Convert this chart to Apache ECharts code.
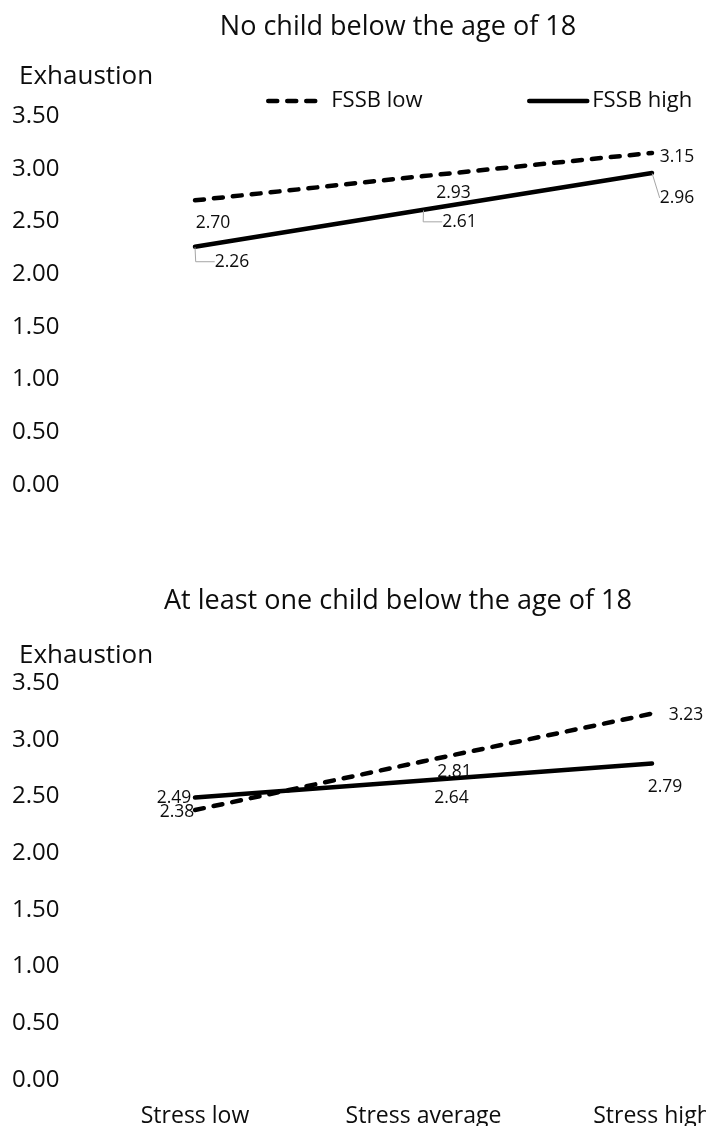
<!DOCTYPE html>
<html>
<head>
<meta charset="utf-8">
<script src="https://cdn.jsdelivr.net/npm/echarts/dist/echarts.min.js"></script>
<style>
html,body{margin:0;padding:0;background:#fff;}
#chart{width:706px;height:1126px;}
</style>
</head>
<body>
<div id="chart"></div>
<script>
// ---- data ----
const categories = ['Stress low', 'Stress average', 'Stress high'];
const seriesNames = ['FSSB low', 'FSSB high'];
const noChildLow = [2.70, 2.93, 3.15];
const noChildHigh = [2.26, 2.61, 2.96];
const childLow = [2.38, 2.81, 3.23];
const childHigh = [2.49, 2.64, 2.79];
const yTicks = [0, 0.5, 1.0, 1.5, 2.0, 2.5, 3.0, 3.5];
const panelTitles = ['No child below the age of 18', 'At least one child below the age of 18'];
const yAxisTitle = 'Exhaustion';

// ---- styling / layout config ----
const FONT = 'Open Sans';
const TXT = '#0d0d0d';
const GUIDE = { color: '#a6a6a6', width: 1 };

const labelOffsets = {
  topLow: [[18, 23], [30, 17], [25, 4]],
  topHigh: [[37, 15], [36, 12], [25, 25]],
  botLow: [[-18, 2], [31, 11], [34, 1]],
  botHigh: [[-21, 0], [28, 17], [13, 23]]
};
const guideLines = {
  topHigh: [
    { show: true, length2: 19, lineStyle: GUIDE },
    { show: true, length2: 19, lineStyle: GUIDE },
    { show: true, length2: 0, lineStyle: GUIDE }
  ]
};

function buildData(values, offsets, guides) {
  return values.map((v, i) => ({
    value: v,
    label: { offset: offsets[i] },
    labelLine: guides ? guides[i] : { show: false }
  }));
}

const dashedStyle = { color: '#000', width: 4.5, type: [9, 10], cap: 'round' };
const solidStyle = { color: '#000', width: 4.5, type: 'solid', cap: 'round' };

function lineSeries(name, values, idx, offsets, guides, style) {
  return {
    name: name,
    type: 'line',
    xAxisIndex: idx,
    yAxisIndex: idx,
    data: buildData(values, offsets, guides),
    symbol: 'circle',
    symbolSize: 1,
    showSymbol: true,
    itemStyle: { color: '#000' },
    lineStyle: style,
    emphasis: { disabled: true },
    silent: true,
    label: {
      show: true,
      position: 'inside',
      align: 'center',
      verticalAlign: 'middle',
      fontFamily: FONT,
      fontSize: 17.5,
      color: TXT,
      formatter: p => Number(p.value).toFixed(2)
    },
    z: 3
  };
}

function legendFor(name, left, style, iconWidth, textPad) {
  return {
    data: [name], left: left, top: 90, padding: 0, itemWidth: iconWidth, itemHeight: 14,
    selectedMode: false,
    itemStyle: { opacity: 0 },
    lineStyle: { width: style.width, type: style.type, cap: style.cap },
    textStyle: { fontFamily: FONT, fontSize: 22, color: TXT, padding: [0, 0, 0, textPad] }
  };
}

const gridTops = [116, 683];
const gridHeights = [369, 397];

const option = {
  animation: false,
  backgroundColor: '#fff',
  textStyle: { fontFamily: FONT },
  title: [
    { text: panelTitles[0], left: 398, top: 14, textAlign: 'center', padding: 0,
      textStyle: { fontFamily: FONT, fontSize: 27, fontWeight: 'normal', color: TXT } },
    { text: yAxisTitle, left: 19, top: 64, padding: 0,
      textStyle: { fontFamily: FONT, fontSize: 26, fontWeight: 'normal', color: TXT } },
    { text: panelTitles[1], left: 398, top: 588, textAlign: 'center', padding: 0,
      textStyle: { fontFamily: FONT, fontSize: 27, fontWeight: 'normal', color: TXT } },
    { text: yAxisTitle, left: 19, top: 643, padding: 0,
      textStyle: { fontFamily: FONT, fontSize: 26, fontWeight: 'normal', color: TXT } }
  ],
  legend: [
    legendFor(seriesNames[0], 266, dashedStyle, 52, 6),
    legendFor(seriesNames[1], 527, solidStyle, 58, 0)
  ],
  grid: gridTops.map((t, i) => ({
    left: 195, right: 54, top: t, height: gridHeights[i], containLabel: false, outerBoundsMode: 'none'
  })),
  xAxis: [0, 1].map(i => ({
    type: 'category',
    gridIndex: i,
    data: categories,
    boundaryGap: false,
    axisLine: { show: false },
    axisTick: { show: false },
    splitLine: { show: false },
    axisLabel: {
      show: i === 1,
      interval: 0,
      margin: 25,
      fontFamily: FONT,
      fontSize: 23,
      color: TXT
    }
  })),
  yAxis: [0, 1].map(i => ({
    type: 'value',
    gridIndex: i,
    min: yTicks[0],
    max: yTicks[yTicks.length - 1],
    interval: yTicks[1] - yTicks[0],
    axisLine: { show: false },
    axisTick: { show: false },
    splitLine: { show: false },
    axisLabel: {
      align: 'left',
      margin: 183,
      fontFamily: FONT,
      fontSize: 24,
      color: TXT,
      formatter: v => v.toFixed(2)
    }
  })),
  series: [
    lineSeries(seriesNames[0], noChildLow, 0, labelOffsets.topLow, null, dashedStyle),
    lineSeries(seriesNames[1], noChildHigh, 0, labelOffsets.topHigh, guideLines.topHigh, solidStyle),
    lineSeries(seriesNames[0], childLow, 1, labelOffsets.botLow, null, dashedStyle),
    lineSeries(seriesNames[1], childHigh, 1, labelOffsets.botHigh, null, solidStyle)
  ]
};

const chart = echarts.init(document.getElementById('chart'), null, { renderer: 'canvas' });
chart.setOption(option);
</script>
</body>
</html>
